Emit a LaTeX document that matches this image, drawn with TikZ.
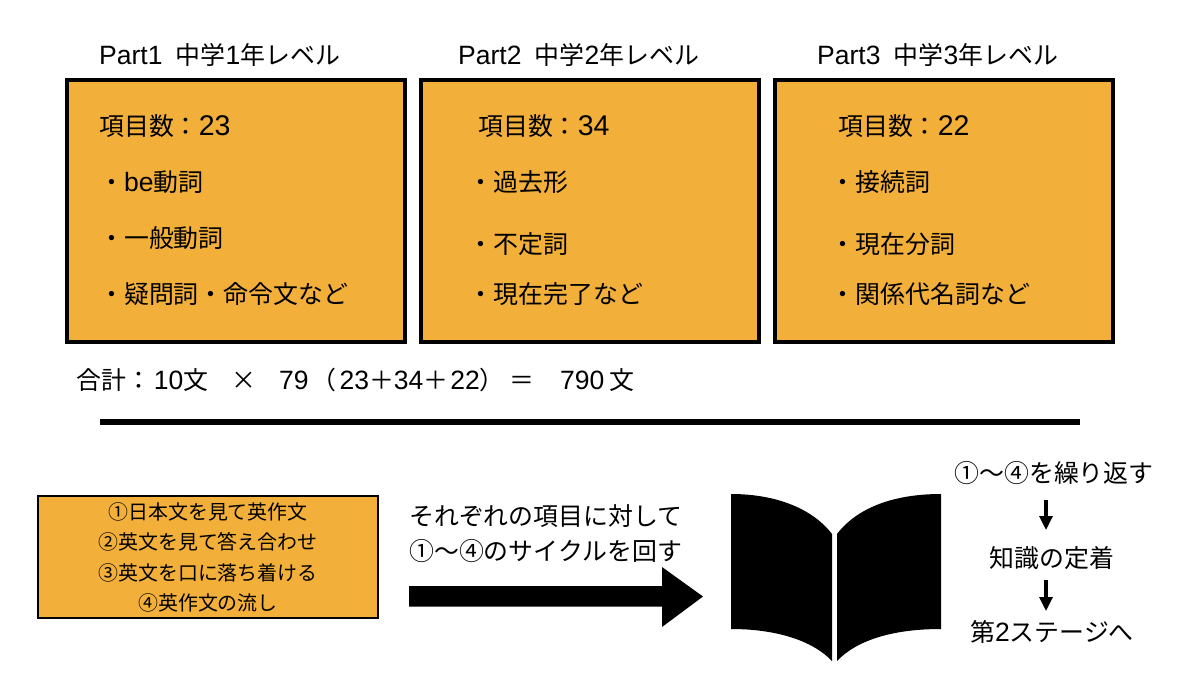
\documentclass[tikz,border=0pt]{standalone}
\usepackage{fontspec}
\setmainfont{Liberation Sans}
\newfontfamily\cjk{Noto Sans CJK JP}[Scale=0.94]
\newcommand{\J}[1]{{\cjk #1}}
\newcommand{\HS}[1]{\hspace{#1pt}}
\newcommand{\BG}[1]{{\fontsize{28.5}{30}\selectfont #1}}
\definecolor{boxorange}{HTML}{F2AF3A}
\usetikzlibrary{arrows.meta}
\tikzset{
  lab/.style={anchor=west,inner sep=0pt,font=\fontsize{26.5}{30}\selectfont,text=black},
  small/.style={anchor=center,inner sep=0pt,font=\fontsize{21.2}{24}\selectfont,text=black},
  side/.style={anchor=center,inner sep=0pt,font=\fontsize{26.5}{30}\selectfont,text=black},
  card/.style={draw=black,line width=4pt,fill=boxorange},
  down/.style={draw=black,line width=3.2pt,-{Triangle[length=14pt,width=13pt]}}
}
\begin{document}
\begin{tikzpicture}[x=1pt,y=-1pt]
\useasboundingbox (0,0) rectangle (1200,675);
\fill[white] (0,0) rectangle (1200,675);
\draw[card] (67,80) rectangle (405,342);
\draw[card] (421,80) rectangle (759,342);
\draw[card] (775,80) rectangle (1113,342);
\node[lab] (h1) at (99,54.5) {Part1\HS{6} \J{中学}1\J{年レベル}};
\node[lab] (h2) at (458,54.5) {Part2\HS{6} \J{中学}2\J{年レベル}};
\node[lab] (h3) at (817,54.5) {Part3\HS{6} \J{中学}3\J{年レベル}};
\node[lab] (a0) at (99,126) {\J{項目数：}\BG{23}};
\node[lab] (a1) at (99,182.5) {\J{・}be\J{動詞}};
\node[lab] (a2) at (99,238.5) {\J{・一般動詞}};
\node[lab] (a3) at (99,294.5) {\J{・疑問詞・命令文など}};
\node[lab] (b0) at (478,126) {\J{項目数：}\BG{34}};
\node[lab] (b1) at (468.5,182.5) {\J{・過去形}};
\node[lab] (b2) at (468.5,244.5) {\J{・不定詞}};
\node[lab] (b3) at (468.5,294.5) {\J{・現在完了など}};
\node[lab] (c0) at (838,126) {\J{項目数：}\BG{22}};
\node[lab] (c1) at (830.5,182.5) {\J{・接続詞}};
\node[lab] (c2) at (830.5,244.5) {\J{・現在分詞}};
\node[lab] (c3) at (830.5,294.5) {\J{・関係代名詞など}};
\node[lab] (sum) at (76,380) {\J{合計：}\HS{3}10\J{文}\HS{23.5}\J{×}\HS{22.5}79\HS{3}\J{（}\HS{3}23\J{＋}34\J{＋}\HS{2}22\J{）}\HS{5}\J{＝}\HS{25.5}790\HS{5}\J{文}};
\coordinate (ruleL) at (100,421.5);
\coordinate (ruleR) at (1080,421.5);
\draw[line width=6pt] (ruleL) -- (ruleR);
\draw[draw=black,line width=2.5pt,fill=boxorange] (38,496) rectangle (378,618);
\node[small] (s1) at (208,511.5) {\J{①日本文を見て英作文}};
\node[small] (s2) at (208,541.5) {\J{②英文を見て答え合わせ}};
\node[small] (s3) at (208,572.5) {\J{③英文を口に落ち着ける}};
\node[small] (s4) at (208,602.5) {\J{④英作文の流し}};
\node[lab] (t1) at (409,516) {\J{それぞれの項目に対して}};
\node[lab] (t2) at (409,551) {\J{①〜④のサイクルを回す}};
\fill[black] (409,586) -- (662,586) -- (662,567) -- (703,596.5) -- (662,627) -- (662,606.5) -- (409,606.5) -- cycle;
\fill[black] (731,494) .. controls (775,494) and (812,508) .. (832,534) -- (832,661) .. controls (812,640) and (775,629) .. (731,629) -- cycle;
\fill[black] (941,494) .. controls (893,494) and (857,508) .. (837,534) -- (837,661) .. controls (857,640) and (893,629) .. (941,629) -- cycle;
\node[side] (r1) at (1054,473) {\J{①〜④を繰り返す}};
\node[side] (r2) at (1052,558) {\J{知識の定着}};
\node[side] (r3) at (1052,632) {\J{第}2\J{ステージへ}};
\coordinate (d1) at (1046,500);
\coordinate (d2) at (1046,530);
\coordinate (d3) at (1046,580);
\coordinate (d4) at (1046,611);
\draw[down] (d1) -- (d2);
\draw[down] (d3) -- (d4);
\end{tikzpicture}
\end{document}
